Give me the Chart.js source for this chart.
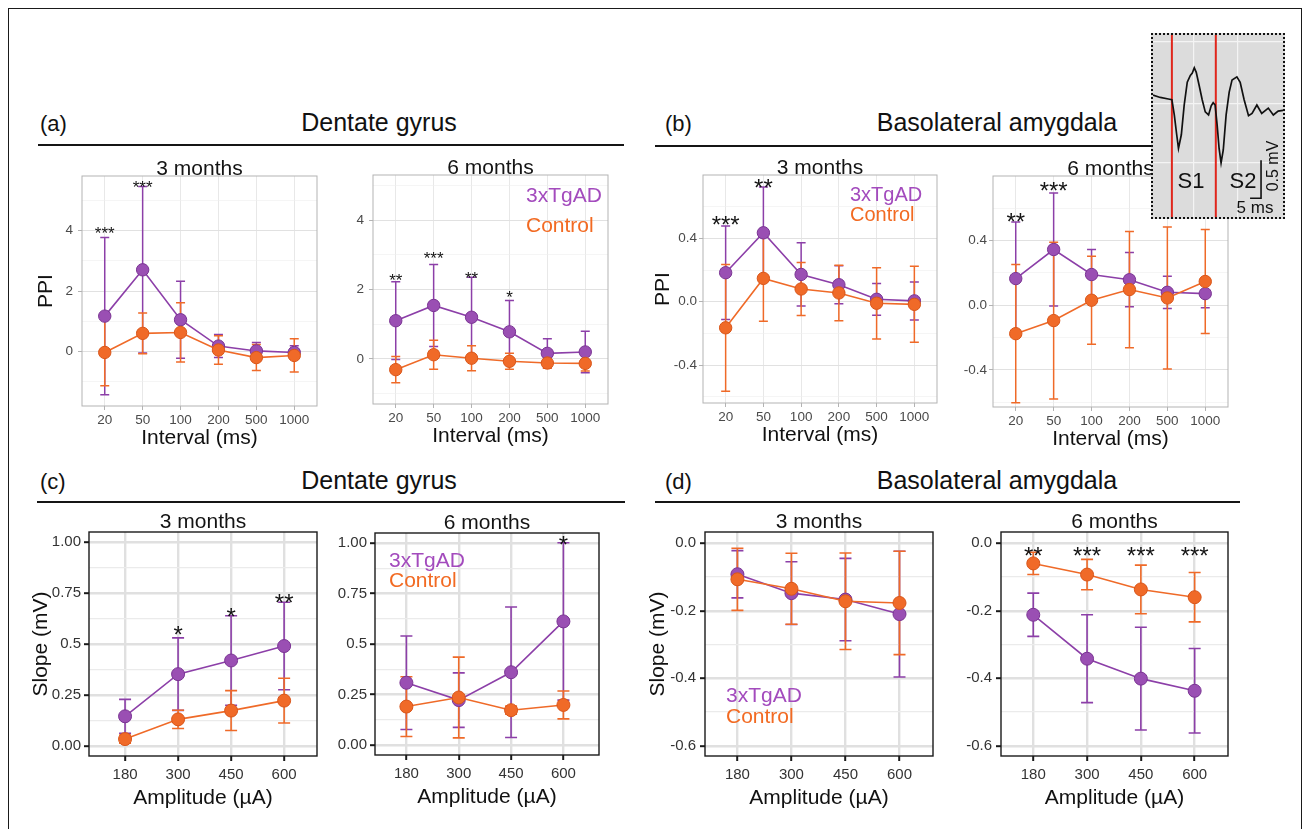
<!DOCTYPE html>
<html><head><meta charset="utf-8">
<script src="https://cdn.jsdelivr.net/npm/chart.js@4.4.1/dist/chart.umd.min.js"></script>
<style>
html,body{margin:0;padding:0;background:#fff;}
body{width:1311px;height:829px;overflow:hidden;position:relative;font-family:"Liberation Sans",Arial,sans-serif;color:#111;}
#frame{position:absolute;left:8px;top:8px;width:1292px;height:900px;border:1.5px solid #1a1a1a;}
.t{position:absolute;white-space:nowrap;line-height:1;}
.rule{position:absolute;height:2px;background:#151515;}
#inset{position:absolute;left:1151px;top:33px;width:130px;height:182px;border:2px dotted #111;background:#dcdcdc;z-index:5;}
.c{position:absolute;white-space:nowrap;line-height:1;transform:translate(-50%,-50%);z-index:6;color:#111;}
</style></head>
<body>
<div id="frame"></div>
<div id="fig"></div>

<div class="t" style="left:40px;top:113px;font-size:22px;">(a)</div>
<div class="t" style="left:229px;width:300px;text-align:center;top:110px;font-size:25px;">Dentate gyrus</div>
<div class="rule" style="left:38px;width:586px;top:144px;"></div>
<div class="t" style="left:665px;top:113px;font-size:22px;">(b)</div>
<div class="t" style="left:847px;width:300px;text-align:center;top:110px;font-size:25px;">Basolateral amygdala</div>
<div class="rule" style="left:655px;width:585px;top:145px;"></div>

<div class="t" style="left:40px;top:471px;font-size:22px;">(c)</div>
<div class="t" style="left:229px;width:300px;text-align:center;top:468px;font-size:25px;">Dentate gyrus</div>
<div class="rule" style="left:37px;width:588px;top:501px;"></div>
<div class="t" style="left:665px;top:471px;font-size:22px;">(d)</div>
<div class="t" style="left:847px;width:300px;text-align:center;top:468px;font-size:25px;">Basolateral amygdala</div>
<div class="rule" style="left:655px;width:585px;top:501px;"></div>

<div id="inset"><canvas id="insetCanvas" width="130" height="182" style="width:130px;height:182px;display:block;"></canvas></div>
<div class="c" style="left:1191px;top:181px;font-size:22px;">S1</div>
<div class="c" style="left:1243px;top:181px;font-size:22px;">S2</div>
<div class="c" style="left:1273px;top:166px;font-size:16px;transform:translate(-50%,-50%) rotate(-90deg);">0.5 mV</div>
<div class="c" style="left:1255px;top:207px;font-size:17px;">5 ms</div>

<script>
// ---------------- DATA ----------------
const seriesNames = ['3xTgAD', 'Control'];
const intervals = ['20', '50', '100', '200', '500', '1000'];
const amplitudes = ['180', '300', '450', '600'];

// (a) Dentate gyrus, PPI
const dg3_tg = [1.17, 2.70, 1.05, 0.18, 0.02, -0.03];
const dg3_tgErr = [2.60, 2.75, 1.27, 0.38, 0.28, 0.22];
const dg3_ct = [-0.03, 0.60, 0.63, 0.05, -0.20, -0.13];
const dg3_ctErr = [1.10, 0.67, 0.98, 0.47, 0.43, 0.55];
const dg3_stars = ['***', '***', '', '', '', ''];
const dg3_starY = [4.03, 5.55, null, null, null, null];

const dg6_tg = [1.10, 1.54, 1.20, 0.78, 0.16, 0.20];
const dg6_tgErr = [1.12, 1.18, 1.15, 0.90, 0.42, 0.60];
const dg6_ct = [-0.31, 0.12, 0.02, -0.07, -0.12, -0.13];
const dg6_ctErr = [0.38, 0.42, 0.36, 0.23, 0.15, 0.22];
const dg6_stars = ['**', '***', '**', '*', '', ''];
const dg6_starY = [2.38, 3.01, 2.43, 1.88, null, null];

// (b) Basolateral amygdala, PPI
const bla3_tg = [0.183, 0.435, 0.172, 0.107, 0.015, 0.005];
const bla3_tgErr = [0.295, 0.29, 0.20, 0.12, 0.10, 0.12];
const bla3_ct = [-0.165, 0.147, 0.08, 0.055, -0.01, -0.017];
const bla3_ctErr = [0.40, 0.27, 0.167, 0.175, 0.225, 0.24];
const bla3_stars = ['***', '**', '', '', '', ''];
const bla3_starY = [0.52, 0.752, null, null, null, null];

const bla6_tg = [0.165, 0.345, 0.19, 0.158, 0.08, 0.072];
const bla6_tgErr = [0.35, 0.35, 0.155, 0.168, 0.10, 0.087];
const bla6_ct = [-0.176, -0.095, 0.031, 0.097, 0.045, 0.147];
const bla6_ctErr = [0.428, 0.485, 0.272, 0.36, 0.44, 0.322];
const bla6_stars = ['**', '***', '', '', '', ''];
const bla6_starY = [0.546, 0.742, null, null, null, null];

// (c) Dentate gyrus, slope
const dgA3_tg = [0.145, 0.352, 0.419, 0.49];
const dgA3_tgErr = [0.083, 0.178, 0.22, 0.215];
const dgA3_ct = [0.033, 0.13, 0.173, 0.222];
const dgA3_ctErr = [0.02, 0.045, 0.098, 0.11];
const dgA3_stars = ['', '*', '*', '**'];
const dgA3_starY = [null, 0.57, 0.66, 0.726];

const dgA6_tg = [0.308, 0.222, 0.36, 0.612];
const dgA6_tgErr = [0.232, 0.135, 0.323, 0.39];
const dgA6_ct = [0.19, 0.235, 0.172, 0.198];
const dgA6_ctErr = [0.148, 0.20, 0.02, 0.069];
const dgA6_stars = ['', '', '', '*'];
const dgA6_starY = [null, null, null, 1.016];

// (d) Basolateral amygdala, slope
const blaA3_tg = [-0.092, -0.148, -0.167, -0.21];
const blaA3_tgErr = [0.07, 0.093, 0.122, 0.186];
const blaA3_ct = [-0.107, -0.135, -0.172, -0.177];
const blaA3_ctErr = [0.092, 0.105, 0.143, 0.153];
const blaA3_stars = ['', '', '', ''];
const blaA3_starY = [null, null, null, null];

const blaA6_tg = [-0.212, -0.342, -0.401, -0.437];
const blaA6_tgErr = [0.064, 0.13, 0.152, 0.125];
const blaA6_ct = [-0.06, -0.093, -0.137, -0.16];
const blaA6_ctErr = [0.033, 0.045, 0.072, 0.073];
const blaA6_stars = ['**', '***', '***', '***'];
const blaA6_starY = [-0.0216, -0.0216, -0.0216, -0.0216];

// y tick values / labels
const ppiDG_major = [0, 2, 4], ppiDG_labels = ['0', '2', '4'], ppiDG_minor = [-1, 1, 3, 5];
const ppiBLA_major = [-0.4, 0, 0.4], ppiBLA_labels = ['-0.4', '0.0', '0.4'], ppiBLA_minor = [-0.6, -0.2, 0.2, 0.6];
const slDG_major = [0, 0.25, 0.5, 0.75, 1], slDG_labels = ['0.00', '0.25', '0.5', '0.75', '1.00'], slDG_minor = [0.125, 0.375, 0.625, 0.875];
const slBLA_major = [-0.6, -0.4, -0.2, 0], slBLA_labels = ['-0.6', '-0.4', '-0.2', '0.0'], slBLA_minor = [-0.5, -0.3, -0.1];

// inset trace (ms, mV)
const insetT = [0, 3.3, 7.0, 8.6, 9.7, 10.8, 11.6, 12.9, 14.2, 15.6, 17.0, 17.9, 18.8, 19.7, 21.0, 22.4, 23.8, 25.3, 26.5, 27.4, 28.3, 29.2, 30.1, 31.0, 32.0, 33.3, 34.7, 36.0, 38.2, 39.7, 41.5, 43.5, 45.1, 47.3, 49.5, 52.5, 54.8, 57.0, 59.2];
const insetV = [0, -0.03, -0.05, -0.06, -0.26, -0.52, -0.70, -0.52, -0.13, 0.17, 0.26, 0.29, 0.36, 0.30, 0.13, -0.06, -0.22, -0.26, -0.14, -0.10, -0.13, -0.39, -0.70, -0.89, -0.72, -0.26, 0.04, 0.20, 0.24, 0.17, -0.06, -0.27, -0.24, -0.13, -0.24, -0.17, -0.26, -0.21, -0.20];
const stimTimes = [8.6, 28.6];
const scaleBarMs = 5, scaleBarMv = 0.5;
const scaleBarCornerT = 49.2, scaleBarCornerV = -1.354;

// ---------------- RENDERING ----------------
Chart.defaults.font.family = '"Liberation Sans", Arial, sans-serif';
const FONT = '"Liberation Sans", Arial, sans-serif';
const PURPLE = {line: '#8c3fa8', fill: '#9a4fb3', edge: '#7a3493', text: '#a34bbd'};
const ORANGE = {line: '#ef6a28', fill: '#f06a28', edge: '#d8561a', text: '#f26a22'};

function errorPlugin(S) {
  return {id: 'eb', beforeDatasetsDraw(chart) {
    const {ctx, scales: {x, y}} = chart;
    ctx.save(); ctx.lineWidth = S.elw;
    const dss = [...chart.data.datasets].sort((a, b) => b.order - a.order);
    for (const ds of dss) {
      ctx.strokeStyle = ds.borderColor;
      ds.data.forEach((p, i) => {
        const e = ds.errors[i]; if (!e) return;
        const px = x.getPixelForValue(p.x), y1 = y.getPixelForValue(p.y + e), y2 = y.getPixelForValue(p.y - e);
        ctx.beginPath();
        ctx.moveTo(px, y1); ctx.lineTo(px, y2);
        ctx.moveTo(px - S.cap, y1); ctx.lineTo(px + S.cap, y1);
        ctx.moveTo(px - S.cap, y2); ctx.lineTo(px + S.cap, y2);
        ctx.stroke();
      });
    }
    ctx.restore();
  }};
}

function decoPlugin(c, S) {
  return {id: 'deco', afterDatasetsDraw(chart) {
    const {ctx, chartArea: a, scales: {x, y}} = chart;
    ctx.save();
    ctx.strokeStyle = S.border; ctx.lineWidth = S.bw;
    ctx.strokeRect(a.left, a.top, a.right - a.left, a.bottom - a.top);
    ctx.fillStyle = '#141414';
    ctx.font = `21px ${FONT}`; ctx.textAlign = 'center'; ctx.textBaseline = 'alphabetic';
    ctx.fillText(c.title, (a.left + a.right) / 2, a.top - S.titleGap);
    ctx.font = `${c.starSize}px ${FONT}`;
    c.stars.forEach((s, i) => {
      if (!s) return;
      ctx.fillText(s, x.getPixelForValue(i), y.getPixelForValue(c.starY[i]) + 0.56 * c.starSize);
    });
    if (c.legend) {
      const L = c.legend;
      ctx.font = `${L.size}px ${FONT}`; ctx.textAlign = 'left'; ctx.textBaseline = 'middle';
      ctx.fillStyle = PURPLE.text; ctx.fillText(seriesNames[0], a.left + L.dx, a.top + L.dy1);
      ctx.fillStyle = ORANGE.text; ctx.fillText(seriesNames[1], a.left + L.dx, a.top + L.dy2);
    }
    ctx.restore();
  }};
}

const STYLE_TOP = {border: '#b3b3b3', bw: 1, gMaj: '#e1e1e1', gMajW: 1, gMin: '#efefef', gMinW: 0.6, gx: '#e8e8e8', gxW: 1,
  tick: '#b3b3b3', tickW: 1, tickLen: 4, tickFont: 13.5, tickColor: '#4a4a4a', radius: 6.2, lw: 1.6, elw: 1.5, cap: 4.5,
  xH: 50, titleGap: 1.5, xTickPad: 2.5, xTitlePad: 5.4};
const STYLE_BOT = {border: '#1a1a1a', bw: 1.4, gMaj: '#e0e0e0', gMajW: 2.4, gMin: '#ebebeb', gMinW: 1.2, gx: '#e0e0e0', gxW: 2.4,
  tick: '#1a1a1a', tickW: 2, tickLen: 5, tickFont: 15, tickColor: '#333', radius: 6.5, lw: 1.6, elw: 1.6, cap: 6,
  xH: 62, titleGap: 4, xTickPad: 5, xTitlePad: 7.4};

function panel(c) {
  const S = c.style === 'top' ? STYLE_TOP : STYLE_BOT;
  const yW = 72, padTop = 34, padR = 10;
  const w = yW + (c.R - c.L) + padR, h = padTop + (c.B - c.T) + S.xH;
  const cv = document.createElement('canvas');
  cv.width = w; cv.height = h;
  cv.style.cssText = `position:absolute;left:${c.L - yW}px;top:${c.T - padTop}px;width:${w}px;height:${h}px;`;
  document.getElementById('fig').appendChild(cv);
  const yAll = [...c.yMajor, ...c.yMinor].sort((p, q) => p - q);
  const isMaj = v => c.yMajor.some(m => Math.abs(m - v) < 1e-9);
  const mk = (vals, errs, col, ord, name) => ({
    label: name, data: vals.map((v, i) => ({x: i, y: v})), errors: errs,
    borderColor: col.line, backgroundColor: col.fill, pointBackgroundColor: col.fill,
    pointBorderColor: col.edge, pointBorderWidth: 1, pointRadius: S.radius, borderWidth: S.lw,
    tension: 0, order: ord
  });
  new Chart(cv, {
    type: 'line',
    data: {datasets: [mk(c.tg, c.tgErr, PURPLE, 2, seriesNames[0]), mk(c.ct, c.ctErr, ORANGE, 1, seriesNames[1])]},
    options: {
      responsive: false, animation: false, events: [], devicePixelRatio: 1,
      layout: {padding: {left: 0, top: padTop, right: padR, bottom: 0}},
      plugins: {legend: {display: false}, tooltip: {enabled: false}, title: {display: false}},
      scales: {
        x: {
          type: 'linear', min: c.xmin, max: c.xmax,
          afterBuildTicks: s => { s.ticks = c.cats.map((_, i) => ({value: i})); },
          afterFit: s => { s.height = S.xH; },
          ticks: {autoSkip: false, maxRotation: 0, padding: S.xTickPad, color: S.tickColor, font: {size: S.tickFont},
            callback: v => c.cats[v]},
          grid: {color: S.gx, lineWidth: S.gxW, tickColor: S.tick, tickWidth: S.tickW, tickLength: S.tickLen},
          border: {display: false},
          title: {display: true, text: c.xTitle, color: '#111', font: {size: 21}, padding: {top: 0, bottom: S.xTitlePad}}
        },
        y: {
          type: 'linear', min: c.ymin, max: c.ymax,
          afterBuildTicks: s => { s.ticks = yAll.map(v => ({value: v})); },
          afterFit: s => { s.width = yW; },
          ticks: {autoSkip: false, padding: c.yTickPad, color: S.tickColor, font: {size: S.tickFont},
            callback: v => { const k = c.yMajor.findIndex(m => Math.abs(m - v) < 1e-9); return k >= 0 ? c.yLabels[k] : ''; }},
          grid: {
            color: g => (g.tick && isMaj(g.tick.value)) ? S.gMaj : S.gMin,
            lineWidth: g => (g.tick && isMaj(g.tick.value)) ? S.gMajW : S.gMinW,
            tickColor: g => (g.tick && isMaj(g.tick.value)) ? S.tick : 'rgba(0,0,0,0)',
            tickWidth: S.tickW, tickLength: S.tickLen
          },
          border: {display: false},
          title: {display: !!c.yTitle, text: c.yTitle || '', color: '#111', font: {size: 21},
            padding: {top: c.yTitle ? (yW - c.yTitleOff - 12.6) : 0, bottom: 0}}
        }
      }
    },
    plugins: [errorPlugin(S), decoPlugin(c, S)]
  });
}

const ivTitle = 'Interval (ms)', ampTitle = 'Amplitude (\u00B5A)';
panel({style: 'top', L: 82, T: 176, R: 317, B: 406, xmin: -0.6, xmax: 5.6, ymin: -1.8, ymax: 5.8, cats: intervals,
  tg: dg3_tg, tgErr: dg3_tgErr, ct: dg3_ct, ctErr: dg3_ctErr, stars: dg3_stars, starY: dg3_starY, starSize: 17,
  yMajor: ppiDG_major, yLabels: ppiDG_labels, yMinor: ppiDG_minor, title: '3 months', xTitle: ivTitle,
  yTitle: 'PPI', yTitleOff: 36, yTickPad: 5});
panel({style: 'top', L: 373, T: 175, R: 608, B: 404, xmin: -0.6, xmax: 5.6, ymin: -1.3, ymax: 5.3, cats: intervals,
  tg: dg6_tg, tgErr: dg6_tgErr, ct: dg6_ct, ctErr: dg6_ctErr, stars: dg6_stars, starY: dg6_starY, starSize: 17,
  yMajor: ppiDG_major, yLabels: ppiDG_labels, yMinor: ppiDG_minor, title: '6 months', xTitle: ivTitle,
  yTickPad: 5, legend: {dx: 153, dy1: 21.7, dy2: 51, size: 21}});
panel({style: 'top', L: 703, T: 175, R: 937, B: 403, xmin: -0.6, xmax: 5.6, ymin: -0.64, ymax: 0.80, cats: intervals,
  tg: bla3_tg, tgErr: bla3_tgErr, ct: bla3_ct, ctErr: bla3_ctErr, stars: bla3_stars, starY: bla3_starY, starSize: 24,
  yMajor: ppiBLA_major, yLabels: ppiBLA_labels, yMinor: ppiBLA_minor, title: '3 months', xTitle: ivTitle,
  yTitle: 'PPI', yTitleOff: 40, yTickPad: 2, legend: {dx: 147, dy1: 20, dy2: 40.7, size: 20}});
panel({style: 'top', L: 993, T: 176, R: 1228, B: 407, xmin: -0.6, xmax: 5.6, ymin: -0.63, ymax: 0.80, cats: intervals,
  tg: bla6_tg, tgErr: bla6_tgErr, ct: bla6_ct, ctErr: bla6_ctErr, stars: bla6_stars, starY: bla6_starY, starSize: 24,
  yMajor: ppiBLA_major, yLabels: ppiBLA_labels, yMinor: ppiBLA_minor, title: '6 months', xTitle: ivTitle, yTickPad: 2});
panel({style: 'bot', L: 89, T: 532, R: 317, B: 756, xmin: -0.68, xmax: 3.62, ymin: -0.05, ymax: 1.05, cats: amplitudes,
  tg: dgA3_tg, tgErr: dgA3_tgErr, ct: dgA3_ct, ctErr: dgA3_ctErr, stars: dgA3_stars, starY: dgA3_starY, starSize: 24,
  yMajor: slDG_major, yLabels: slDG_labels, yMinor: slDG_minor, title: '3 months', xTitle: ampTitle,
  yTitle: 'Slope (mV)', yTitleOff: 48, yTickPad: 3});
panel({style: 'bot', L: 375, T: 533, R: 599, B: 755, xmin: -0.6, xmax: 3.68, ymin: -0.05, ymax: 1.05, cats: amplitudes,
  tg: dgA6_tg, tgErr: dgA6_tgErr, ct: dgA6_ct, ctErr: dgA6_ctErr, stars: dgA6_stars, starY: dgA6_starY, starSize: 24,
  yMajor: slDG_major, yLabels: slDG_labels, yMinor: slDG_minor, title: '6 months', xTitle: ampTitle, yTickPad: 3,
  legend: {dx: 14, dy1: 28.7, dy2: 48.7, size: 21}});
panel({style: 'bot', L: 705, T: 532, R: 933, B: 756, xmin: -0.6, xmax: 3.62, ymin: -0.63, ymax: 0.033, cats: amplitudes,
  tg: blaA3_tg, tgErr: blaA3_tgErr, ct: blaA3_ct, ctErr: blaA3_ctErr, stars: blaA3_stars, starY: blaA3_starY, starSize: 24,
  yMajor: slBLA_major, yLabels: slBLA_labels, yMinor: slBLA_minor, title: '3 months', xTitle: ampTitle,
  yTitle: 'Slope (mV)', yTitleOff: 47, yTickPad: 4, legend: {dx: 21, dy1: 164.7, dy2: 185.7, size: 21}});
panel({style: 'bot', L: 1001, T: 532, R: 1228, B: 756, xmin: -0.6, xmax: 3.62, ymin: -0.63, ymax: 0.033, cats: amplitudes,
  tg: blaA6_tg, tgErr: blaA6_tgErr, ct: blaA6_ct, ctErr: blaA6_ctErr, stars: blaA6_stars, starY: blaA6_starY, starSize: 24,
  yMajor: slBLA_major, yLabels: slBLA_labels, yMinor: slBLA_minor, title: '6 months', xTitle: ampTitle, yTickPad: 4});

// ---------------- INSET ----------------
const insetYMin = -1.60, insetYMax = 0.79, insetXMax = 59.2;
new Chart(document.getElementById('insetCanvas'), {
  type: 'scatter',
  data: {datasets: [
    {data: insetT.map((t, i) => ({x: t, y: insetV[i]})), showLine: true, borderColor: '#111', borderWidth: 1.7, pointRadius: 0, tension: 0},
    ...stimTimes.map(t => ({data: [{x: t, y: insetYMin}, {x: t, y: insetYMax}], showLine: true, borderColor: '#e0261c', borderWidth: 2, pointRadius: 0})),
    {data: [{x: scaleBarCornerT - scaleBarMs, y: scaleBarCornerV}, {x: scaleBarCornerT, y: scaleBarCornerV}, {x: scaleBarCornerT, y: scaleBarCornerV + scaleBarMv}],
      showLine: true, borderColor: '#111', borderWidth: 1.6, pointRadius: 0}
  ]},
  options: {
    responsive: false, animation: false, events: [], devicePixelRatio: 1,
    layout: {padding: 0},
    plugins: {legend: {display: false}, tooltip: {enabled: false}},
    scales: {
      x: {type: 'linear', min: 0, max: insetXMax, ticks: {display: false},
        afterBuildTicks: s => { s.ticks = [18.3, 38.6].map(v => ({value: v})); },
        afterFit: s => { s.height = 0; },
        grid: {color: '#f4f4f4', lineWidth: 1.2, drawTicks: false}, border: {display: false}},
      y: {type: 'linear', min: insetYMin, max: insetYMax, ticks: {display: false},
        afterBuildTicks: s => { s.ticks = [-0.88, -0.11, 0.70].map(v => ({value: v})); },
        afterFit: s => { s.width = 0; },
        grid: {color: '#f4f4f4', lineWidth: 1.2, drawTicks: false}, border: {display: false}}
    }
  }
});
</script>
</body></html>
